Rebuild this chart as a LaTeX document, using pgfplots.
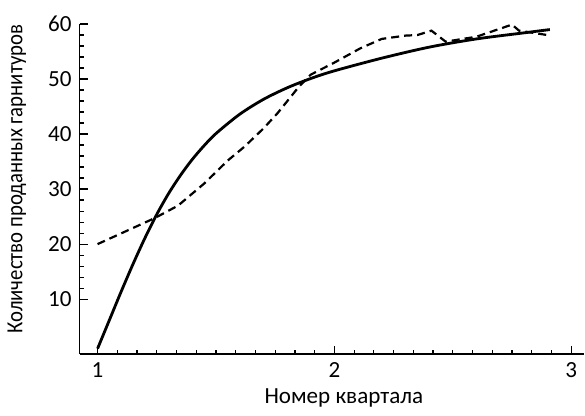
\documentclass[border=0pt]{standalone}
\usepackage{fontspec}
\setmainfont{Carlito}
\usepackage{pgfplots}
\pgfplotsset{compat=1.18}
\begin{document}
\fontsize{11.5pt}{13pt}\selectfont
\begin{tikzpicture}
\begin{axis}[
  name=ax,
  scale only axis,
  width=251.5pt, height=164.5pt,
  xmin=0.924, xmax=3.055,
  ymin=0, ymax=60,
  axis lines*=left,
  axis line style={line width=0.8pt},
  xtick={1,2,3}, ytick={10,20,30,40,50,60},
  minor x tick num=11,
  minor y tick num=4,
  xtick pos=bottom, ytick pos=left,
  tick align=inside,
  major tick length=4pt, minor tick length=2pt,
  every tick/.style={black, line width=0.6pt},
  /pgf/number format/assume math mode=true,
  tick label style={font=\fontsize{11.5pt}{13pt}\selectfont},
  label style={font=\fontsize{11.5pt}{13pt}\selectfont},
  xlabel={Номер квартала},
  ylabel={Количество проданных гарнитуров},
  xlabel style={yshift=2pt, xshift=6pt},
  ylabel style={yshift=3pt, xshift=5pt, font=\fontsize{11.5pt}{13pt}\selectfont\addfontfeatures{FakeStretch=0.9}},
  clip=false,
]
\addplot[black, line width=1.4pt, smooth] coordinates {
 (1.00,1.0) (1.05,6.2) (1.10,11.4) (1.15,16.4) (1.20,21.1) (1.25,25.4)
 (1.30,29.2) (1.35,32.5) (1.40,35.4) (1.45,37.9) (1.50,40.1) (1.60,43.6)
 (1.70,46.3) (1.80,48.4) (1.90,50.1) (2.00,51.5) (2.20,53.8) (2.40,55.8)
 (2.60,57.3) (2.80,58.4) (2.91,59.0)
};
\addplot[black, line width=1.1pt, dash pattern=on 4pt off 2.5pt] coordinates {
 (1.0,20) (1.24,24.7) (1.34,27) (1.45,31) (1.55,35.2) (1.62,37.7)
 (1.7,41) (1.76,43.8) (1.85,48.6) (1.9,50.8) (2.0,53) (2.11,55.6)
 (2.2,57.3) (2.3,57.9) (2.35,58) (2.41,58.8) (2.47,56.8) (2.6,57.7)
 (2.75,59.9) (2.78,58.8) (2.9,58)
};
\end{axis}
\path ([yshift=12pt]ax.north);
\end{tikzpicture}
\end{document}
